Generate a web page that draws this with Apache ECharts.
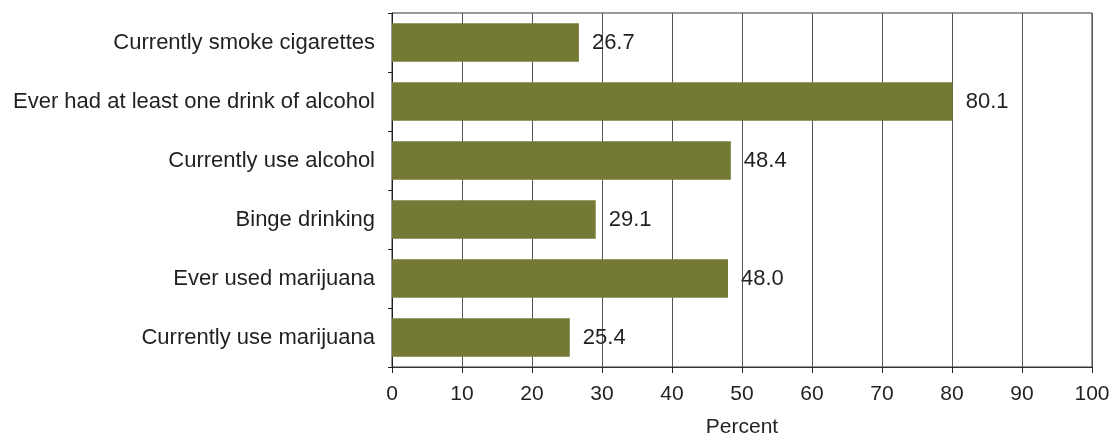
<!DOCTYPE html>
<html>
<head>
<meta charset="utf-8">
<script src="https://cdn.jsdelivr.net/npm/echarts@6/dist/echarts.min.js"></script>
<style>
  html, body { margin: 0; padding: 0; background: #fff; }
  #chart { width: 1111px; height: 434px; }
</style>
</head>
<body>
<div id="chart"></div>
<script>
// Substance use behaviours, percent of respondents
const categories = [
  'Currently smoke cigarettes',
  'Ever had at least one drink of alcohol',
  'Currently use alcohol',
  'Binge drinking',
  'Ever used marijuana',
  'Currently use marijuana'
];
const percentValues = [26.7, 80.1, 48.4, 29.1, 48.0, 25.4];
const xTicks = [0, 10, 20, 30, 40, 50, 60, 70, 80, 90, 100];

const textColor = '#231f20';
const fontFamily = '"Liberation Sans", Arial, Helvetica, sans-serif';

const chart = echarts.init(document.getElementById('chart'), null, { renderer: 'canvas' });
chart.setOption({
  animation: false,
  grid: {
    left: 392, right: 19, top: 13, bottom: 67,
    containLabel: false,
    outerBoundsMode: 'none',
    show: true, borderColor: '#333', borderWidth: 1
  },
  xAxis: {
    type: 'value',
    min: xTicks[0],
    max: xTicks[xTicks.length - 1],
    interval: 10,
    name: 'Percent',
    nameLocation: 'middle',
    nameGap: 50,
    nameTextStyle: { fontSize: 21, color: textColor, fontFamily },
    axisLine: { show: true, lineStyle: { color: '#333', width: 1 } },
    axisTick: { show: true, length: 6, lineStyle: { color: '#222' } },
    axisLabel: { fontSize: 21, color: textColor, fontFamily, margin: 17 },
    splitLine: { show: true, lineStyle: { color: '#555', width: 1 } }
  },
  yAxis: {
    type: 'category',
    inverse: true,
    data: categories,
    axisLine: { show: true, lineStyle: { color: '#222', width: 1 } },
    axisTick: { show: true, length: 4, lineStyle: { color: '#222' } },
    axisLabel: { fontSize: 22, color: textColor, fontFamily, margin: 17 },
    splitLine: { show: false }
  },
  series: [{
    type: 'bar',
    data: percentValues,
    barCategoryGap: '35%',
    itemStyle: { color: '#747a35' },
    label: {
      show: true,
      position: 'right',
      distance: 13,
      fontSize: 22,
      color: textColor,
      fontFamily,
      formatter: p => p.value.toFixed(1)
    }
  }]
});
</script>
</body>
</html>
